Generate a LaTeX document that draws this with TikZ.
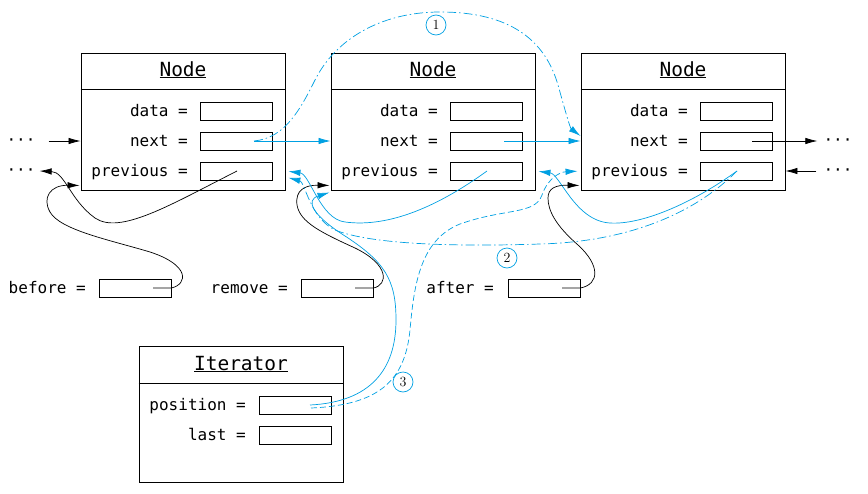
\documentclass[tikz,border=0pt]{standalone}
\usepackage{fontspec}
\setmonofont{DejaVu Sans Mono}
\usetikzlibrary{calc}
\usetikzlibrary{arrows.meta}

\definecolor{linkblue}{RGB}{0,160,226}

\tikzset{
	objbox/.style={draw, line width=0.9pt, minimum width=204pt, minimum height=137pt, inner sep=0pt},
	fieldbox/.style={draw, line width=0.9pt, minimum width=72pt, minimum height=18pt, inner sep=0pt},
	fieldname/.style={anchor=base east, inner sep=0pt, font=\ttfamily\fontsize{16}{18}\selectfont},
	classname/.style={anchor=base, inner sep=0pt, font=\ttfamily\fontsize{19.5}{22}\selectfont},
	dots/.style={inner sep=0pt, font=\ttfamily\fontsize{16}{18}\selectfont},
	stepnum/.style={draw=linkblue, circle, line width=0.7pt, minimum size=20pt, inner sep=0pt, font=\fontsize{14}{16}\selectfont},
	ptr/.style={-{Latex[length=12pt,width=6.5pt]}, line width=0.7pt},
	oldptr/.style={ptr, linkblue},
	newptr/.style={ptr, linkblue, dash pattern=on 9pt off 3pt on 1.5pt off 3pt},
	moveptr/.style={ptr, linkblue, dash pattern=on 6pt off 3pt},
}

\begin{document}
\begin{tikzpicture}[x=1pt, y=-1pt]

	\useasboundingbox (0,0) rectangle (868,493);

% Draw list nodes.

	\foreach \i/\x in {1/81, 2/331, 3/581} {
		\node[objbox] (n\i) at (\x+102, 121.5) {};
		\draw[line width=0.9pt] ($(n\i.north west)+(0,37)$) -- ($(n\i.north east)+(0,37)$);
		\node[classname] at (\x+102, 76) {\underline{Node}};
		\node[fieldname] at (\x+107, 116) {data =};
		\node[fieldname] at (\x+107, 146) {next =};
		\node[fieldname] at (\x+107, 176) {previous =};
		\node[fieldbox] (n\i-data) at (\x+155, 111) {};
		\node[fieldbox] (n\i-next) at (\x+155, 141) {};
		\node[fieldbox] (n\i-prev) at (\x+155, 171) {};
	}

	%rest of the list
	\node[dots] (ldots1) at (21, 142.5) {···};
	\node[dots] (ldots2) at (21, 172.5) {···};
	\node[dots] (rdots1) at (838, 142.5) {···};
	\node[dots] (rdots2) at (838, 172.5) {···};

% Draw variables.

	\node[fieldname] at (86, 293) {before =};
	\node[fieldbox] (before) at (135, 288) {};
	\node[fieldname] at (288, 293) {remove =};
	\node[fieldbox] (remove) at (337, 288) {};
	\node[fieldname] at (494, 293) {after =};
	\node[fieldbox] (after) at (544, 288) {};

% Draw iterator.

	\node[objbox, minimum height=136pt] (it) at (241, 414) {};
	\draw[line width=0.9pt] ($(it.north west)+(0,38)$) -- ($(it.north east)+(0,38)$);
	\node[classname] at (241, 370) {\underline{Iterator}};
	\node[fieldname] at (246, 410) {position =};
	\node[fieldname] at (246, 440) {last =};
	\node[fieldbox] (position) at (295, 405) {};
	\node[fieldbox] (last) at (295, 435) {};

% Draw black links.

	\draw[ptr] ($(ldots1.east |- n1-next)+(13,0)$) -- (n1.west |- n1-next);
	\draw[ptr] ([xshift=16pt]n3-next.center) -- ($(rdots1.west |- n3-next)+(-6,0)$);
	\draw[ptr] ($(rdots2.west |- n3-prev)+(-7,0)$) -- (n3.east |- n3-prev);

	\draw[ptr] ([xshift=1pt]n1-prev.center) .. controls (170,205) and (120,235) .. (95,218)
		.. controls (70,200) and (65,172) .. ($(ldots2.east |- n1-prev)+(4,0)$);

	\draw[ptr] ([xshift=18pt]before.center) -- (before.east) .. controls (188,284) and (190,265) .. (150,252)
		.. controls (110,240) and (60,230) .. (50,212) .. controls (42,198) and (50,185) .. ($(n1.south west)+(-1,-5)$);
	\draw[ptr] ([xshift=18pt]remove.center) -- (remove.east) .. controls (388,285) and (390,265) .. (355,248)
		.. controls (320,232) and (300,222) .. (297,205) .. controls (295,190) and (305,185) .. ($(n2.south west)+(-1,-5)$);
	\draw[ptr] ([xshift=18pt]after.center) -- (after.east) .. controls (600,284) and (600,265) .. (578,245)
		.. controls (555,225) and (548,210) .. (548,198) .. controls (548,188) and (556,185) .. ($(n3.south west)+(-1,-5)$);

% Draw old blue links.

	\draw[oldptr] ([xshift=18pt]n1-next.center) -- (n2.west |- n1-next);
	\draw[oldptr] ([xshift=18pt]n2-next.center) -- (n3.west |- n2-next);

	\draw[oldptr, shorten >=3pt] ([xshift=1pt]n2-prev.center) .. controls (440,205) and (390,228) .. (345,222)
		.. controls (320,219) and (310,174) .. (n1.east |- n1-prev);
	\draw[oldptr, shorten >=3pt] ([xshift=1pt]n3-prev.center) .. controls (690,205) and (640,225) .. (610,223)
		.. controls (575,221) and (560,174) .. (n2.east |- n3-prev);
	\draw[oldptr] ([xshift=15pt]position.center) .. controls (370,402) and (396,370) .. (396,320)
		.. controls (396,280) and (385,262) .. (345,236) .. controls (312,215) and (305,200) .. ($(n2.south west)+(-1,2)$);

% Draw new blue links.

	\draw[newptr] ([xshift=18pt]n1-next.center) .. controls (285,138) and (300,110) .. (315,80)
		.. controls (335,40) and (380,12) .. (440,12) .. controls (510,12) and (545,40) .. (558,85)
		.. controls (565,110) and (570,128) .. ($(n3.west |- n3-next)+(0,-5)$);
	\draw[newptr, shorten >=3pt] ([xshift=1pt]n3-prev.center) .. controls (690,218) and (620,242) .. (540,244)
		.. controls (450,247) and (370,244) .. (335,230) .. controls (310,218) and (305,182) .. ($(n1.east |- n1-prev)+(0,6)$);
	\draw[moveptr, shorten >=3pt] ($(position.center)+(16,3)$) .. controls (380,405) and (405,380) .. (410,330)
		.. controls (414,285) and (420,240) .. (460,224) .. controls (505,208) and (535,215) .. (542,195)
		.. controls (548,178) and (560,172) .. (n3.west |- n3-prev);

% Draw step labels.

	\node[stepnum] (step1) at (436, 25) {1};
	\node[stepnum] (step2) at (507, 258) {2};
	\node[stepnum] (step3) at (403, 382) {3};

\end{tikzpicture}
\end{document}
